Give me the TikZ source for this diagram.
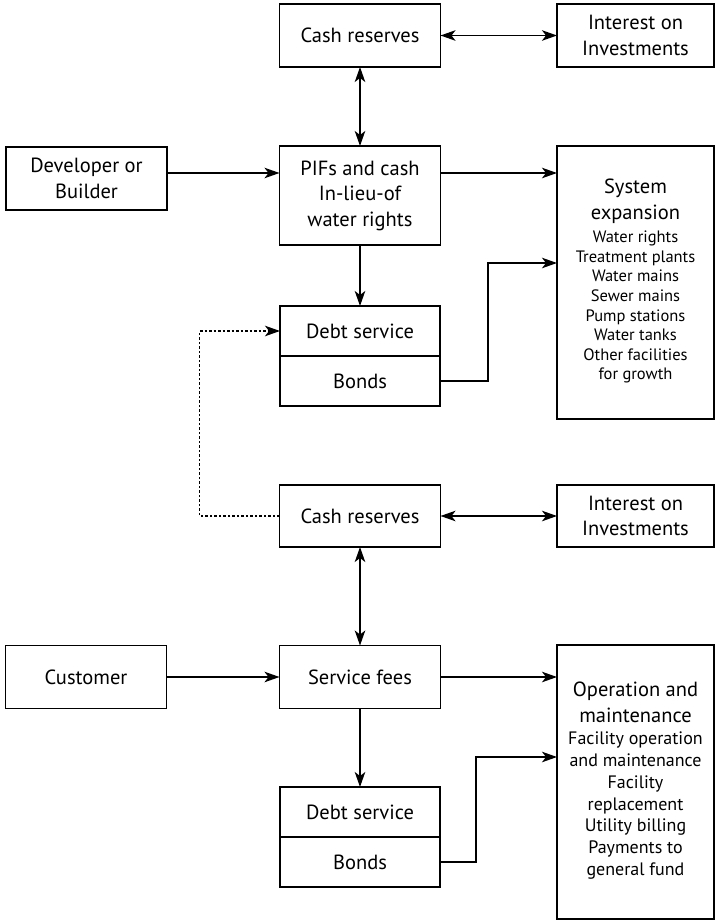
\documentclass[tikz,border=0pt]{standalone}
\usepackage{fontspec}
\setmainfont{PT Sans}
\usetikzlibrary{arrows.meta,calc,positioning}
\newcommand{\sysfont}{\fontsize{16.5}{19.6}\selectfont}
\newcommand{\opfont}{\fontsize{18}{21.8}\selectfont}
\begin{document}
\begin{tikzpicture}[x=1pt,y=-1pt,font=\fontsize{20.5}{25.5}\selectfont,
    >={Stealth[length=15pt,width=10.5pt,inset=4pt]},
    box/.style={draw,line width=1.4pt,align=center,inner sep=0pt,outer sep=0pt,
      minimum width=161pt,minimum height=63pt},
    link/.style={line width=1.4pt}]
  \useasboundingbox (0,0) rectangle (715,920);
  \node[box] (cash1) at (360,35.5) {Cash reserves};
  \node[box,minimum width=157pt] (int1) at (635.5,35.5) {Interest on\\Investments};
  \node[box] (dev) at (86.5,178.5) {Developer or\\Builder};
  \node[box,minimum height=99pt] (pifs) at (360,195.5) {PIFs and cash\\In-lieu-of\\water rights};
  \node[box,minimum width=157pt,minimum height=273pt] (sys) at (635.5,282.5)
    {System\\expansion\\[-2pt]\sysfont\begin{tabular}[t]{@{}c@{}}Water rights\\Treatment plants\\
     Water mains\\Sewer mains\\Pump stations\\Water tanks\\Other facilities\\for growth\end{tabular}};
  \node[box,minimum width=160pt,minimum height=50pt] (debt1) at (360,331) {Debt service};
  \node[box,minimum width=160pt,minimum height=50pt,below=0pt of debt1] (bonds1) {Bonds};
  \node[box,minimum height=62pt] (cash2) at (360,516) {Cash reserves};
  \node[box,minimum width=157pt,minimum height=62pt] (int2) at (635.5,516) {Interest on\\Investments};
  \node[box] (cust) at (86,677) {Customer};
  \node[box] (fees) at (360,677) {Service fees};
  \node[box,minimum width=157pt,minimum height=274pt] (oper) at (635.5,782)
    {Operation and\\maintenance\\[-3pt]\opfont\begin{tabular}[t]{@{}c@{}}Facility operation\\
     and maintenance\\Facility\\replacement\\Utility billing\\Payments to\\general fund\end{tabular}};
  \node[box,minimum width=160pt,minimum height=50pt] (debt2) at (360,812) {Debt service};
  \node[box,minimum width=160pt,minimum height=50pt,below=0pt of debt2] (bonds2) {Bonds};
  \draw[link,<->] (cash1.east) -- (int1.west);
  \draw[link,<->] (cash1.south) -- (pifs.north);
  \draw[link,->] ([yshift=5.5pt]dev.east) -- ([yshift=5.5pt]dev.east -| pifs.west);
  \draw[link,->] ([yshift=22.5pt]pifs.east) -- ([yshift=22.5pt]pifs.east -| sys.west);
  \draw[link,->] (pifs.south) -- (debt1.north);
  \draw[link,->] (bonds1.east) -- ++(48,0) |- ([yshift=19.5pt]sys.west);
  \draw[link,->,dash pattern=on 2.5pt off 2pt] (cash2.west) -- ++(-80,0) |- (debt1.west);
  \draw[link,<->] (cash2.east) -- (int2.west);
  \draw[link,<->] (cash2.south) -- (fees.north);
  \draw[link,->] (cust.east) -- (fees.west);
  \draw[link,->] (fees.east) -- (fees.east -| oper.west);
  \draw[link,->] (fees.south) -- (debt2.north);
  \draw[link,->] (bonds2.east) -- ++(36,0) |- ([yshift=25pt]oper.west);
\end{tikzpicture}
\end{document}
